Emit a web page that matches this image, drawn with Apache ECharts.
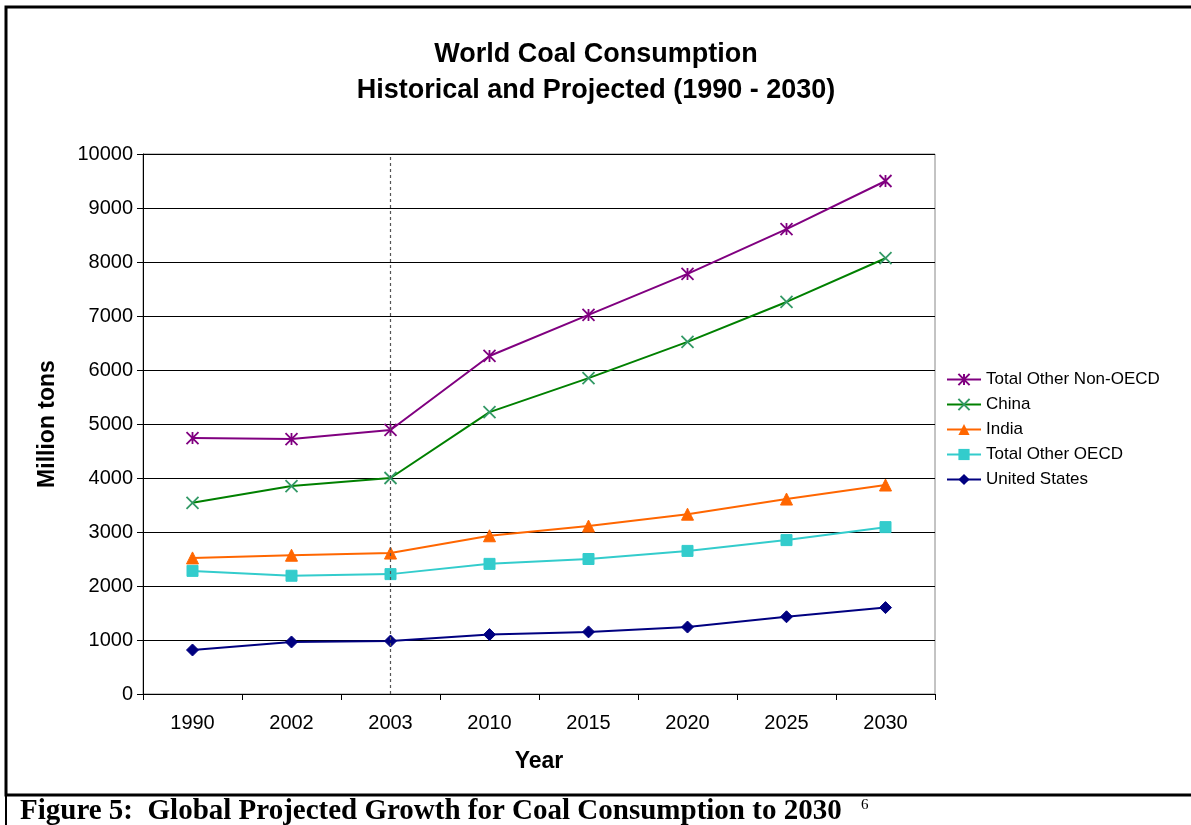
<!DOCTYPE html>
<html><head><meta charset="utf-8">
<script src="https://cdn.jsdelivr.net/npm/echarts@6/dist/echarts.min.js"></script>
<style>html,body{margin:0;padding:0;background:#fff;}#c{width:1191px;height:825px;}</style>
</head><body><div id="c"></div>
<script>
var years = ['1990','2002','2003','2010','2015','2020','2025','2030'];
var nonOECD = [4740, 4720, 4890, 6260, 7020, 7780, 8610, 9500];
var china = [3540, 3850, 4000, 5220, 5850, 6520, 7260, 8070];
var india = [2520, 2570, 2610, 2930, 3110, 3330, 3610, 3870];
var otherOECD = [2280, 2190, 2220, 2410, 2500, 2650, 2850, 3090];
var us = [815, 963, 981, 1100, 1150, 1240, 1430, 1600];
var divider = '2003';

var chart = echarts.init(document.getElementById('c'));
var F = 'Arial, "Liberation Sans", sans-serif';
function s(name, data, color, mcolor, symbol, size, stroke){
  return {
    name: name, type: 'line', data: data, symbol: symbol, symbolSize: size,
    lineStyle: {color: color, width: 2},
    itemStyle: stroke ? {color: 'none', borderColor: mcolor, borderWidth: 1.8} : {color: mcolor, borderColor: mcolor},
    emphasis: {disabled: true}, animation: false
  };
}
var series = [
  s('Total Other Non-OECD', nonOECD, '#800080', '#800080', 'path://M0,0L10,10M10,0L0,10M5,0L5,10', 12, true),
  s('China', china, '#008000', '#339966', 'path://M0,0L10,10M10,0L0,10', 12, true),
  s('India', india, '#FF6600', '#FF6600', 'triangle', 12, false),
  s('Total Other OECD', otherOECD, '#33CCCC', '#33CCCC', 'rect', 11, false),
  s('United States', us, '#000080', '#000080', 'diamond', 12, false)
];
series[0].markLine = {
  silent: true, symbol: 'none', label: {show: false},
  lineStyle: {color: '#555', type: [3, 3], width: 1.2},
  data: [{xAxis: divider}]
};
chart.setOption({
  animation: false,
  backgroundColor: '#fff',
  title: {
    text: 'World Coal Consumption\nHistorical and Projected (1990 - 2030)',
    left: 591, top: 32, textAlign: 'center',
    textStyle: {fontFamily: F, fontSize: 27, fontWeight: 'bold', color: '#000', lineHeight: 36}
  },
  legend: {
    orient: 'vertical', left: 941, top: 366, itemGap: 8,
    itemWidth: 34, itemHeight: 14,
    data: ['Total Other Non-OECD','China','India','Total Other OECD','United States'],
    textStyle: {fontFamily: F, fontSize: 17, color: '#000'}
  },
  grid: {left: 143, right: 256, top: 154, bottom: 131, show: true, borderColor: '#888', borderWidth: 1},
  xAxis: {
    type: 'category', data: years, boundaryGap: true,
    name: 'Year', nameLocation: 'middle', nameGap: 56,
    nameTextStyle: {fontFamily: F, fontSize: 23, fontWeight: 'bold', color: '#000'},
    axisLine: {lineStyle: {color: '#000', width: 1}},
    axisTick: {show: true, length: 6, lineStyle: {color: '#000'}},
    axisLabel: {fontFamily: F, fontSize: 20, color: '#000', margin: 19},
    splitLine: {show: false}
  },
  yAxis: {
    type: 'value', min: 0, max: 10000, interval: 1000,
    name: 'Million tons', nameLocation: 'middle', nameGap: 84, nameRotate: 90,
    nameTextStyle: {fontFamily: F, fontSize: 23, fontWeight: 'bold', color: '#000'},
    axisLine: {show: true, lineStyle: {color: '#000', width: 1}},
    axisTick: {show: true, length: 6, lineStyle: {color: '#000'}},
    axisLabel: {fontFamily: F, fontSize: 20, color: '#000', margin: 10, formatter: function(v){ return String(v); }},
    splitLine: {show: true, lineStyle: {color: '#000', width: 1}}
  },
  series: series,
  graphic: [
    {type: 'polyline', shape: {points: [[1200, 7], [6, 7], [6, 795], [1200, 795]]}, style: {stroke: '#000', lineWidth: 3, fill: null}, silent: true},
    {type: 'line', shape: {x1: 6, y1: 795, x2: 6, y2: 825}, style: {stroke: '#000', lineWidth: 2}, silent: true},
    {type: 'text', left: 20, top: 797, style: {text: 'Figure 5:  Global Projected Growth for Coal Consumption to 2030', font: 'bold 29px "Liberation Serif", "Times New Roman", serif', fill: '#000'}, silent: true},
    {type: 'text', left: 861, top: 798, style: {text: '6', font: '15px "Liberation Serif", "Times New Roman", serif', fill: '#000'}, silent: true}
  ]
});
</script>
</body></html>
